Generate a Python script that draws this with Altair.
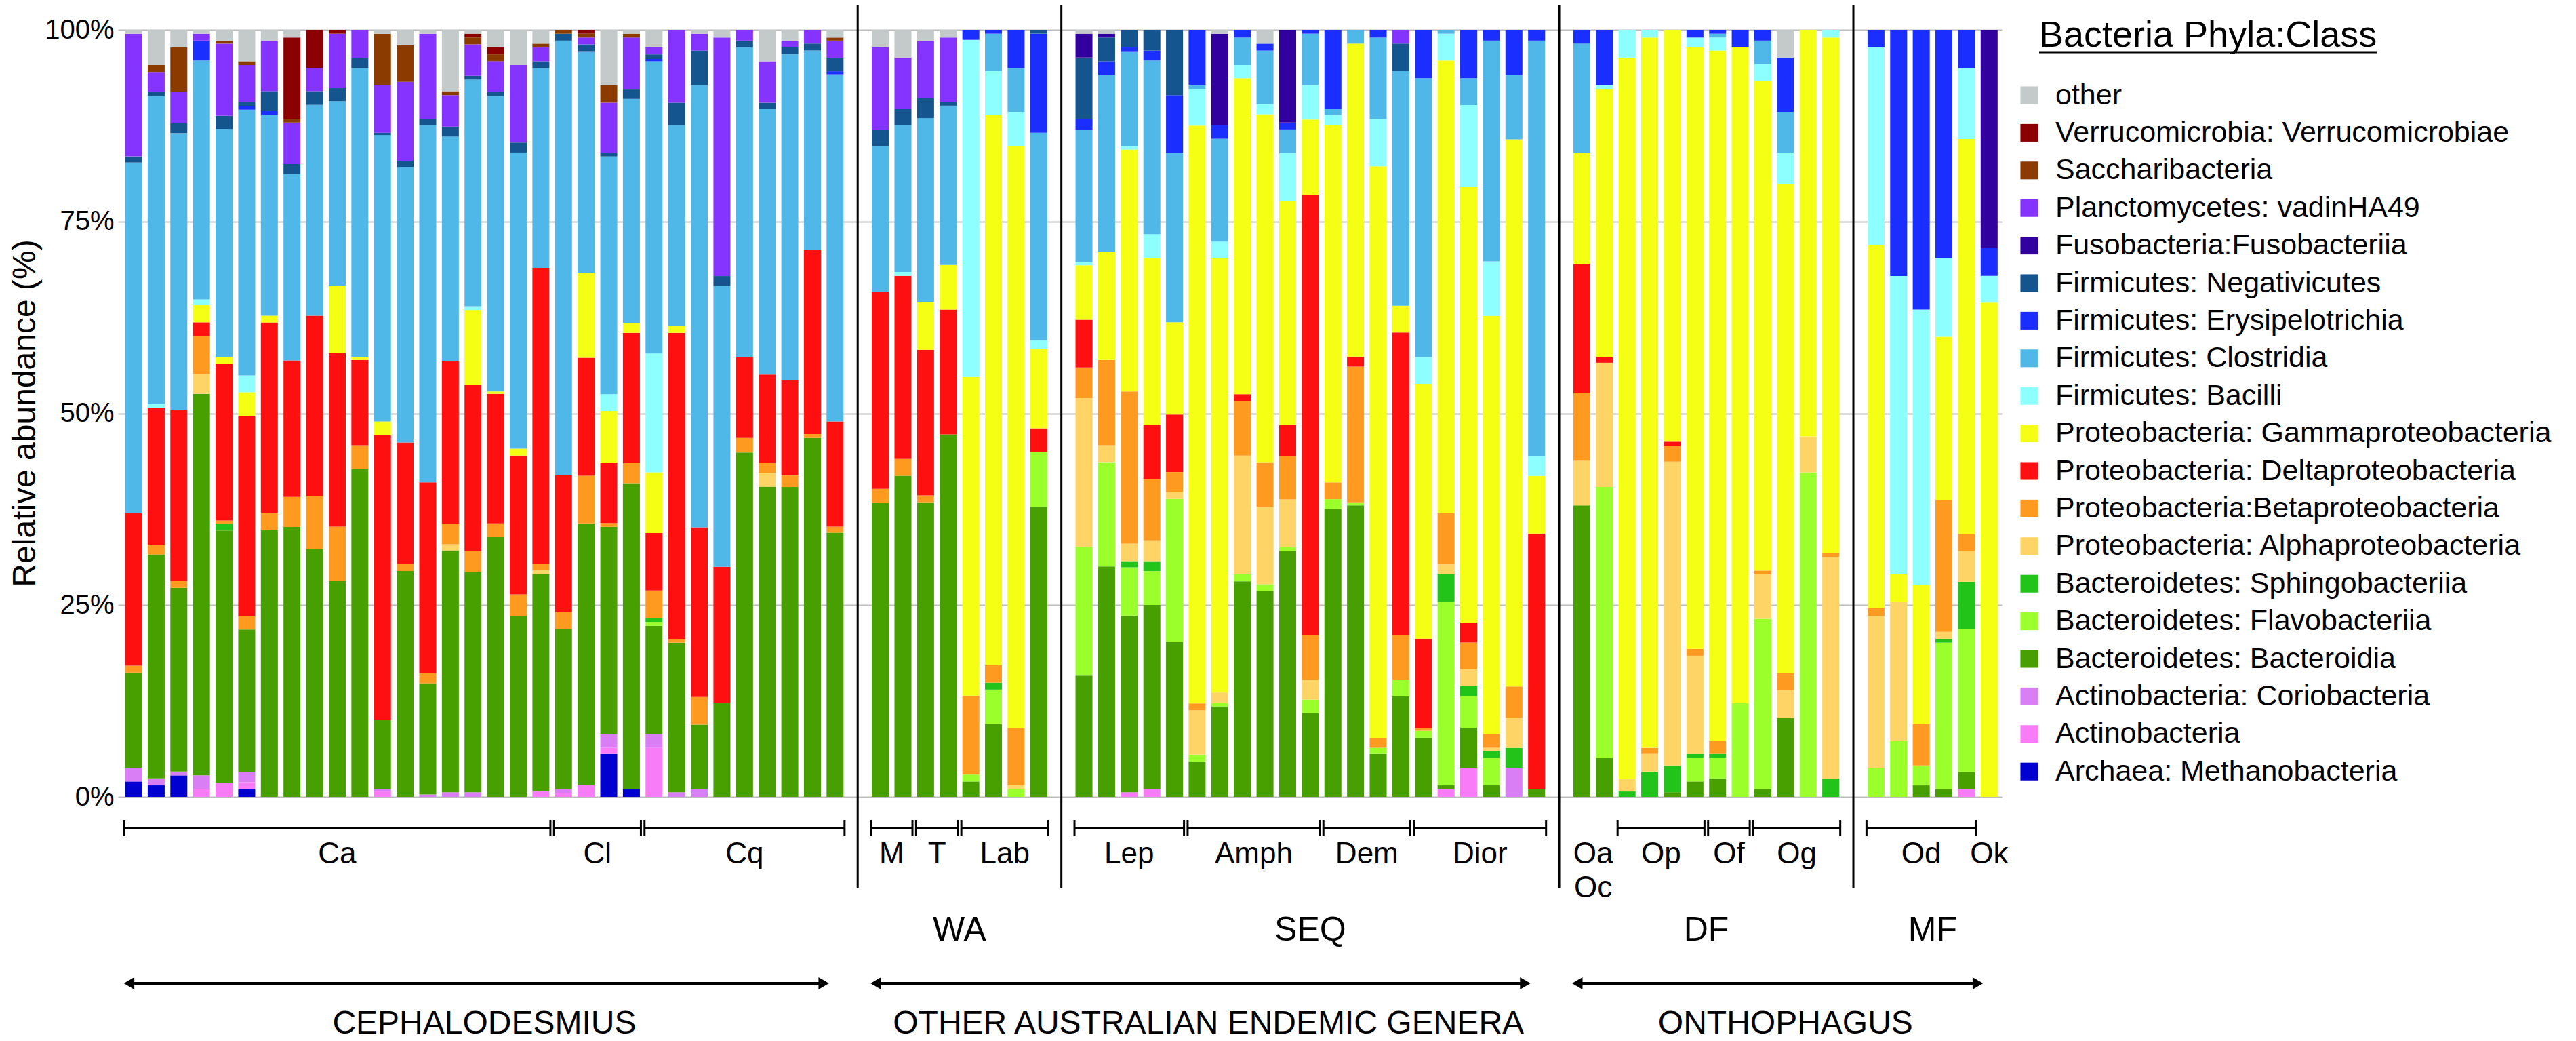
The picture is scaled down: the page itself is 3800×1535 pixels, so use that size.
import altair as alt
import pandas as pd

FONT = "Liberation Sans"

# ---------------- categories (stack order: bottom -> top) ----------------
CLASSES = [
    "Archaea: Methanobacteria",
    "Actinobacteria",
    "Actinobacteria: Coriobacteria",
    "Bacteroidetes: Bacteroidia",
    "Bacteroidetes: Flavobacteriia",
    "Bacteroidetes: Sphingobacteriia",
    "Proteobacteria: Alphaproteobacteria",
    "Proteobacteria:Betaproteobacteria",
    "Proteobacteria: Deltaproteobacteria",
    "Proteobacteria: Gammaproteobacteria",
    "Firmicutes: Bacilli",
    "Firmicutes: Clostridia",
    "Firmicutes: Erysipelotrichia",
    "Firmicutes: Negativicutes",
    "Fusobacteria:Fusobacteriia",
    "Planctomycetes: vadinHA49",
    "Saccharibacteria",
    "Verrucomicrobia: Verrucomicrobiae",
    "other",
]
COLORS = [
    "#0000D0", "#F87CF8", "#DA7EF5", "#48A000", "#9AFF2A", "#22C41A",
    "#FFD466", "#FF9A20", "#FF1010", "#F4FF14", "#8EFFFF", "#50B8E8",
    "#1A2EFF", "#14558F", "#3300A0", "#8533FF", "#8B3A00", "#8B0000",
    "#C4CACA",
]

# ---------------- sample groups ----------------
PANEL_GROUPS = [
    [("Ca", 19), ("Cl", 4), ("Cq", 9)],
    [("M", 2), ("T", 2), ("Lab", 4)],
    [("Lep", 5), ("Amph", 6), ("Dem", 4), ("Dior", 6)],
    [("Oa\nOc", 2), ("Op", 4), ("Of", 2), ("Og", 4)],
    [("Od", 5), ("Ok", 1)],
]
PANEL_REGIONS = ["", "WA", "SEQ", "DF", "MF"]
GENERA = [("CEPHALODESMIUS", 0, 0), ("OTHER AUSTRALIAN ENDEMIC GENERA", 1, 2), ("ONTHOPHAGUS", 3, 4)]
NO_BRACKET = ["Oa\nOc", "Ok"]
LEGEND_TITLE = "Bacteria Phyla:Class"
Y_TITLE = "Relative abundance (%)"
Y_TICKS = [0, 0.25, 0.5, 0.75, 1]

# ---------------- relative abundance (%) per class, one value per sample ----------------
# order per list: Cephalodesmius (32) | WA (8) | SEQ (21) | DF (12) | MF (6)
ARCHAEA = [
    2.0, 1.5, 2.8, 0, 0, 1.0, 0, 0, 0, 0, 0, 0, 0, 0, 0, 0,
    0, 0, 0, 0, 0, 5.6, 1.0, 0, 0, 0, 0, 0, 0, 0, 0, 0,
    0, 0, 0, 0, 0, 0, 0, 0,
    0, 0, 0, 0, 0, 0, 0, 0, 0, 0, 0, 0, 0, 0, 0, 0, 0, 0, 0, 0, 0,
    0, 0, 0, 0, 0, 0, 0, 0, 0, 0, 0, 0,
    0, 0, 0, 0, 0, 0,
]
ACTINO = [
    0, 0, 0, 1.0, 1.8, 0.9, 0, 0, 0, 0, 0, 0.7, 0, 0, 0, 0,
    0, 0, 0.7, 0.5, 1.5, 0.8, 0, 6.4, 0, 0, 0, 0, 0, 0, 0, 0,
    0, 0, 0, 0, 0, 0, 0, 0,
    0, 0, 0.6, 1.0, 0, 0, 0, 0, 0, 0, 0, 0, 0, 0, 0, 0, 1.0, 3.8, 0, 0, 0,
    0, 0, 0, 0, 0, 0, 0, 0, 0, 0, 0, 0,
    0, 0, 0, 0, 1.0, 0,
]
CORIO = [
    1.8, 0.9, 0.5, 1.8, 0, 1.3, 0, 0, 0, 0, 0, 0.3, 0, 0.3, 0.6, 0.6,
    0, 0, 0, 0.5, 0, 1.8, 0, 1.8, 0.6, 1.0, 0, 0, 0, 0, 0, 0,
    0, 0, 0, 0, 0, 0, 0, 0,
    0, 0, 0, 0, 0, 0, 0, 0, 0, 0, 0, 0, 0, 0, 0, 0, 0, 0, 0, 3.8, 0,
    0, 0, 0, 0, 0, 0, 0, 0, 0, 0, 0, 0,
    0, 0, 0, 0, 0, 0,
]
BACTEROIDIA = [
    12.4, 29.2, 24.0, 49.7, 32.9, 18.6, 34.8, 35.2, 32.3, 28.1, 42.7, 9.0, 29.5, 14.5, 31.5, 28.8,
    33.9, 23.6, 28.3, 20.9, 34.2, 27.0, 39.9, 14.1, 19.5, 8.4, 12.2, 44.9, 40.4, 40.4, 46.8, 34.4,
    38.4, 41.9, 38.4, 47.3, 2.0, 9.5, 0, 37.8,
    15.8, 30.0, 23.0, 24.0, 20.2, 4.6, 11.8, 28.1, 26.8, 32.1, 10.9, 37.5, 38.0, 5.6, 13.1, 7.7,
    0.5, 5.2, 1.5, 0, 1.0,
    38.0, 5.1, 0, 0, 0.6, 2.0, 2.4, 0, 1.0, 10.3, 0, 0,
    0, 0, 1.5, 1.0, 2.2, 0,
]
FLAVO = [
    0, 0, 0, 0, 0, 0, 0, 0, 0, 0, 0, 0, 0, 0, 0, 0,
    0, 0, 0, 0, 0, 0, 0, 0.5, 0, 0, 0, 0, 0, 0, 0, 0,
    0, 0, 0, 0, 0.9, 4.5, 1.0, 7.1,
    16.8, 13.6, 6.3, 4.4, 18.6, 0.9, 0.4, 0.9, 0.9, 0.5, 1.8, 1.3, 0.4, 0.8, 2.2, 0.9,
    23.9, 4.1, 3.6, 0, 0,
    0, 35.3, 0, 0, 0, 3.1, 2.7, 12.2, 22.2, 0, 42.3, 0,
    3.8, 7.3, 2.6, 19.1, 18.6, 0,
]
SPHINGO = [
    0, 0, 0, 0, 0.9, 0, 0, 0, 0, 0, 0, 0, 0, 0, 0, 0,
    0, 0, 0, 0, 0, 0, 0, 0.5, 0, 0, 0, 0, 0, 0, 0, 0,
    0, 0, 0, 0, 0, 0.9, 0, 0,
    0, 0, 0.8, 1.3, 0, 0, 0, 0, 0, 0, 0, 0, 0, 0, 0, 0, 3.6, 1.3, 0.9, 2.6, 0,
    0, 0, 0.7, 3.3, 3.5, 0.5, 0.5, 0, 0, 0, 0, 2.4,
    0, 0, 0, 0.5, 6.2, 0,
]
ALPHA = [
    0, 0, 0, 2.6, 0, 0, 0, 0, 0, 0, 0, 0, 0, 0, 0.8, 0,
    0, 0, 0.5, 0, 0, 0, 0, 0, 0, 0, 0, 0, 1.8, 0, 0, 0,
    0, 0, 0, 0, 0, 0, 0.5, 0,
    19.4, 2.2, 2.3, 2.7, 0.9, 5.8, 1.4, 15.5, 10.1, 6.2, 2.6, 0, 0, 0, 0, 0,
    1.3, 2.2, 0.4, 3.9, 0,
    5.8, 16.2, 1.6, 2.3, 39.6, 12.8, 0, 0, 5.8, 3.6, 4.7, 28.9,
    19.8, 18.1, 0, 0.9, 4.0, 0,
]
BETA = [
    0.9, 1.3, 0.9, 4.9, 0.4, 1.7, 2.2, 3.9, 6.9, 7.1, 3.1, 0, 0.9, 1.3, 2.7, 2.7,
    1.8, 2.8, 0.8, 2.2, 6.2, 0.5, 2.6, 3.6, 0.5, 3.6, 0, 1.9, 1.3, 1.5, 0.5, 0.8,
    1.8, 2.2, 0.9, 0, 10.3, 2.3, 7.5, 0,
    4.0, 11.1, 19.8, 8.0, 2.6, 0.9, 0, 7.1, 5.8, 5.7, 5.8, 2.2, 17.7, 1.3, 5.8, 0.4,
    6.7, 3.5, 1.8, 4.1, 0,
    8.8, 0, 0, 0.8, 2.1, 0.9, 1.7, 0, 0.5, 2.2, 0, 0.5,
    1.0, 0, 5.4, 17.2, 2.2, 0,
]
DELTA = [
    19.9, 17.8, 22.3, 1.8, 20.4, 26.1, 24.9, 17.8, 23.6, 22.6, 11.1, 37.1, 15.9, 24.9, 21.1, 21.7,
    16.9, 18.1, 38.6, 17.8, 15.4, 7.9, 17.0, 7.5, 39.9, 22.1, 17.8, 10.5, 11.5, 12.4, 24.0, 13.7,
    25.7, 23.9, 19.0, 16.3, 0, 0, 0, 3.1,
    6.2, 0, 0, 7.1, 7.5, 0, 0, 0.9, 0, 4.0, 57.5, 0, 1.3, 0, 39.5, 11.6,
    0, 2.6, 0, 0, 33.3,
    16.8, 0.7, 0, 0, 0.5, 0, 0, 0, 0, 0, 0, 0,
    0, 0, 0, 0, 0, 0,
]
GAMMA = [
    0, 0, 0, 2.3, 0.9, 3.1, 0.9, 0, 0, 8.8, 0.4, 1.8, 0, 0, 0, 9.8,
    0.3, 0.9, 0, 0, 11.1, 6.7, 1.3, 7.9, 0.9, 0, 0, 0, 0, 0, 0, 0,
    0, 0, 6.2, 5.8, 41.6, 71.8, 75.8, 10.3,
    7.1, 14.1, 31.5, 21.7, 12.0, 75.4, 56.6, 41.2, 45.3, 29.3, 9.8, 46.6, 40.8, 74.5, 3.5, 33.2,
    59.0, 56.7, 54.5, 71.4, 7.5,
    14.6, 35.0, 94.0, 92.6, 53.7, 78.4, 90.0, 85.5, 63.8, 63.8, 53.0, 67.3,
    47.3, 3.6, 18.2, 21.3, 51.4, 64.5,
]
BACILLI = [
    0, 0.5, 0, 0.7, 0, 2.2, 0, 0, 0, 0, 0, 0, 0, 0, 0, 0.5,
    0, 0, 0, 0, 0, 2.2, 0, 15.5, 0, 0, 0, 0, 0, 0, 0, 0,
    0, 0.5, 0, 0, 44.0, 5.7, 4.5, 1.2,
    0.4, 0, 0.4, 3.1, 0, 4.8, 2.2, 1.7, 1.3, 6.2, 4.5, 1.3, 0, 6.2, 0, 3.5,
    3.5, 10.7, 7.1, 0, 2.6,
    0, 0.5, 3.6, 1.0, 0, 1.3, 1.7, 0, 2.2, 4.1, 0, 1.0,
    25.8, 38.9, 35.9, 10.2, 9.2, 3.5,
]
CLOSTRIDIA = [
    45.7, 40.2, 36.2, 31.1, 29.7, 34.6, 26.2, 24.3, 27.5, 24.0, 37.6, 37.3, 36.0, 46.6, 29.3, 29.6,
    38.6, 38.6, 26.0, 56.7, 28.9, 31.0, 29.2, 38.1, 26.2, 57.6, 36.6, 40.4, 34.6, 42.5, 26.0, 45.2,
    19.0, 19.2, 24.0, 20.8, 0, 4.9, 5.7, 27.0,
    17.3, 23.0, 12.4, 22.6, 22.1, 0.5, 13.4, 3.6, 7.0, 3.1, 6.7, 0.8, 1.8, 10.6, 30.6, 36.3,
    0.5, 3.5, 28.8, 8.4, 54.1,
    14.2, 0, 0, 0, 0, 0, 0.5, 0, 3.1, 5.3, 0, 0,
    0, 0, 0, 0, 0, 0,
]
ERYSIPELO = [
    0, 0, 0, 2.6, 0, 0.5, 0.5, 0, 0, 0, 0, 0, 0, 0, 0, 0,
    0, 0, 0, 0, 0, 0, 0, 0.3, 0, 0, 0, 0, 0, 0, 0, 0.4,
    0, 0, 0, 0, 1.3, 0.5, 5.0, 12.9,
    1.4, 1.8, 0.5, 1.3, 7.5, 7.2, 1.8, 1.0, 0.9, 0.9, 0.5, 10.3, 0, 1.0, 0, 6.3,
    0, 6.3, 1.4, 5.9, 1.4,
    1.8, 7.2, 0, 0, 0, 1.0, 0.5, 2.3, 1.4, 7.1, 0, 0,
    2.3, 32.1, 36.5, 29.8, 5.0, 3.6,
]
NEGATIVI = [
    0.8, 0.5, 1.3, 0, 1.7, 0.5, 2.6, 1.3, 1.8, 1.7, 1.3, 0.3, 0.8, 0.8, 1.3, 0.5,
    0.5, 1.3, 0.9, 0.9, 0.9, 0.5, 1.3, 0.6, 2.9, 4.5, 1.3, 0.9, 0.8, 0.9, 0.9, 1.7,
    2.2, 2.1, 2.6, 0.5, 0, 0, 0, 0.5,
    8.0, 3.1, 2.3, 2.7, 8.5, 0, 0, 0, 0, 0, 0, 0, 0, 0, 3.6, 0,
    0, 0, 0, 0, 0,
    0, 0, 0, 0, 0, 0, 0, 0, 0, 0, 0, 0,
    0, 0, 0, 0, 0, 0,
]
FUSO = [
    0, 0, 0, 0, 0, 0, 0, 0, 0, 0, 0, 0, 0, 0, 0, 0,
    0, 0, 0, 0, 0, 0, 0, 0, 0, 0, 0, 0, 0, 0, 0, 0,
    0, 0, 0, 0, 0, 0, 0, 0,
    3.1, 0.5, 0, 0, 0, 0, 11.9, 0, 0, 12.1, 0, 0, 0, 0, 0, 0,
    0, 0, 0, 0, 0,
    0, 0, 0, 0, 0, 0, 0, 0, 0, 0, 0, 0,
    0, 0, 0, 0, 0, 28.5,
]
PLANCTO = [
    16.0, 2.6, 4.1, 0.9, 9.4, 4.8, 6.6, 5.4, 3.0, 7.1, 3.7, 6.2, 10.3, 11.1, 4.1, 4.1,
    4.0, 10.1, 1.8, 0, 0.9, 6.5, 6.7, 0.9, 9.5, 2.2, 31.1, 1.4, 5.4, 0.9, 1.8, 2.3,
    10.7, 6.7, 7.5, 8.4, 0, 0, 0, 0,
    0, 0, 0, 0, 0, 0, 0, 0, 0, 0, 0, 0, 0, 0, 1.8, 0,
    0, 0, 0, 0, 0,
    0, 0, 0, 0, 0, 0, 0, 0, 0, 0, 0, 0,
    0, 0, 0, 0, 0, 0,
]
SACCHARI = [
    0, 0.9, 5.8, 0, 0.4, 0.5, 0, 0.5, 0, 0, 0, 6.7, 4.8, 0, 0.5, 0.9,
    0.9, 0, 0.5, 0.5, 0.5, 2.3, 0.5, 0, 0, 0, 0, 0, 0, 0, 0, 0.4,
    0, 0, 0, 0, 0, 0, 0, 0,
    0, 0, 0, 0, 0, 0, 0, 0, 0, 0, 0, 0, 0, 0, 0, 0,
    0, 0, 0, 0, 0,
    0, 0, 0, 0, 0, 0, 0, 0, 0, 0, 0, 0,
    0, 0, 0, 0, 0, 0,
]
VERRUCO = [
    0, 0, 0, 0, 0, 0, 0, 10.6, 5.0, 0.5, 0, 0, 0, 0, 0, 0.5,
    0.9, 0, 0, 0, 0.5, 0, 0, 0, 0, 0, 0, 0, 0, 0, 0, 0,
    0, 0, 0, 0, 0, 0, 0, 0,
    0, 0, 0, 0, 0, 0, 0, 0, 0, 0, 0, 0, 0, 0, 0, 0,
    0, 0, 0, 0, 0,
    0, 0, 0, 0, 0, 0, 0, 0, 0, 0, 0, 0,
    0, 0, 0, 0, 0, 0,
]
OTHER = [
    0.5, 4.6, 2.3, 0.5, 1.4, 4.1, 1.4, 1.0, 0, 0, 0, 0.5, 2.0, 0.5, 8.0, 0.5,
    2.3, 4.6, 1.8, 0, 0, 7.2, 0.5, 2.3, 0, 0.5, 1.0, 0, 4.1, 1.4, 0, 1.0,
    2.3, 3.6, 1.4, 1.0, 0, 0, 0, 0,
    0.5, 0.5, 0, 0, 0, 0, 0.5, 0, 1.8, 0, 0, 0, 0, 0, 0, 0,
    0, 0, 0, 0, 0,
    0, 0, 0, 0, 0, 0, 0, 0, 0, 3.6, 0, 0,
    0, 0, 0, 0, 0, 0,
]
SERIES = [ARCHAEA, ACTINO, CORIO, BACTEROIDIA, FLAVO, SPHINGO, ALPHA, BETA, DELTA,
          GAMMA, BACILLI, CLOSTRIDIA, ERYSIPELO, NEGATIVI, FUSO, PLANCTO, SACCHARI,
          VERRUCO, OTHER]

# ---------------- layout of samples on a slot axis (one empty slot between panels) ----------------
bar_slots, sep_slots, panel_first, panel_last, group_rows = [], [], [], [], []
slot = 0
for p, groups in enumerate(PANEL_GROUPS):
    if p > 0:
        sep_slots.append(slot)
        slot += 1
    panel_first.append(slot)
    for name, n in groups:
        g0 = slot
        for _ in range(n):
            bar_slots.append(slot)
            slot += 1
        g1 = slot - 1
        group_rows.append({"label": name, "c": (g0 + g1) / 2, "x0": g0 - 0.42,
                           "x1": g1 + 0.42, "br": name not in NO_BRACKET})
    panel_last.append(slot - 1)

rows = []
for i, s in enumerate(bar_slots):
    for k, (cls, ser) in enumerate(zip(CLASSES, SERIES)):
        v = ser[i]
        if v > 0:
            rows.append({"bar": i, "slot": s, "cls": cls, "rank": k, "value": v})
df = pd.DataFrame(rows)

XS = alt.Scale(domain=[-0.69, 82.56], nice=False, zero=False)

bars = alt.Chart(df).transform_stack(
    stack="value", groupby=["bar"], offset="normalize",
    sort=[alt.SortField(field="rank", order="ascending")], as_=["y0", "y1"],
).transform_calculate(
    xa="datum.slot - 0.375", xb="datum.slot + 0.375"
).mark_bar().encode(
    x=alt.X("xa:Q", scale=XS, axis=alt.Axis(domain=True, domainColor="black", domainWidth=6,
                                            ticks=False, labels=False, grid=False, title="")),
    x2="xb:Q",
    y=alt.Y("y0:Q", scale=alt.Scale(domain=[0, 1], nice=False),
            axis=alt.Axis(values=Y_TICKS, format=".0%", grid=True, gridColor="#BDBDBD",
                          gridWidth=2, domain=False, ticks=False, labelFont=FONT,
                          labelFontSize=40, labelColor="black", labelPadding=6,
                          title=Y_TITLE, titleFont=FONT, titleFontSize=48,
                          titleFontWeight="normal", titleColor="black", titleX=-137,
                          titleY=565, titleAngle=270, titleAlign="center",
                          titleBaseline="middle")),
    y2="y1:Q",
    color=alt.Color("cls:N", scale=alt.Scale(domain=CLASSES[::-1], range=COLORS[::-1]),
                    legend=alt.Legend(orient="none", legendX=2798, legendY=75, title=None,
                                      symbolType="square", symbolSize=680,
                                      symbolStrokeWidth=0, labelFont=FONT,
                                      labelFontSize=43, labelColor="black", labelOffset=17,
                                      rowPadding=11.4, padding=0, labelLimit=2000,
                                      direction="vertical")),
)

seps = alt.Chart(pd.DataFrame({"slot": sep_slots})).mark_rule(color="black", strokeWidth=3).encode(
    x=alt.X("slot:Q", scale=XS, axis=None), y=alt.value(-36), y2=alt.value(1265))

grp = pd.DataFrame(group_rows)
brk = grp[grp["br"]]
br_lines = alt.Chart(brk).mark_rule(color="black", strokeWidth=3).encode(
    x=alt.X("x0:Q", scale=XS, axis=None), x2="x1:Q", y=alt.value(1177))
ends = pd.DataFrame({"xe": list(brk["x0"]) + list(brk["x1"])})
br_ends = alt.Chart(ends).mark_rule(color="black", strokeWidth=3).encode(
    x=alt.X("xe:Q", scale=XS, axis=None), y=alt.value(1165), y2=alt.value(1189))
grp_text = alt.Chart(grp).mark_text(font=FONT, fontSize=44, lineBreak="\n", lineHeight=50,
                                    baseline="middle", color="black").encode(
    x=alt.X("c:Q", scale=XS, axis=None), y=alt.value(1216), text="label:N")

reg = pd.DataFrame([{"label": r, "c": (panel_first[i] + panel_last[i]) / 2}
                    for i, r in enumerate(PANEL_REGIONS) if r])
reg_text = alt.Chart(reg).mark_text(font=FONT, fontSize=50, baseline="middle", color="black").encode(
    x=alt.X("c:Q", scale=XS, axis=None), y=alt.value(1328), text="label:N")

gen = pd.DataFrame([{"label": g, "x0": panel_first[a] - 0.2, "x1": panel_last[b] - 0.5,
                     "c": (panel_first[a] + panel_last[b]) / 2} for g, a, b in GENERA])
arrows = alt.Chart(gen).mark_rule(color="black", strokeWidth=4).encode(
    x=alt.X("x0:Q", scale=XS, axis=None), x2="x1:Q", y=alt.value(1406))
head_l = alt.Chart(gen).mark_point(shape="triangle-left", filled=True, size=320, color="black",
                                   opacity=1).encode(
    x=alt.X("x0:Q", scale=XS, axis=None), y=alt.value(1406))
head_r = alt.Chart(gen).mark_point(shape="triangle-right", filled=True, size=320, color="black",
                                   opacity=1).encode(
    x=alt.X("x1:Q", scale=XS, axis=None), y=alt.value(1406))
gen_text = alt.Chart(gen).mark_text(font=FONT, fontSize=48, baseline="alphabetic",
                                    color="black").encode(
    x=alt.X("c:Q", scale=XS, axis=None), y=alt.value(1480), text="label:N")

leg_title = alt.Chart(pd.DataFrame({"t": [LEGEND_TITLE]})).mark_text(
    font=FONT, fontSize=54, align="left", baseline="middle", color="black").encode(
    x=alt.value(2834), y=alt.value(9), text="t:N")
underline = alt.Chart(pd.DataFrame({"t": [LEGEND_TITLE]})).mark_rule(color="black", strokeWidth=3).encode(
    x=alt.value(2834), x2=alt.value(3332), y=alt.value(33))

chart = alt.layer(
    bars, seps, br_lines, br_ends, grp_text, reg_text, arrows, head_l, head_r, gen_text,
    leg_title, underline,
).properties(
    width=2779, height=1131,
    autosize=alt.AutoSizeParams(type="none"),
    padding={"left": 166, "top": 36, "right": 839, "bottom": 360},
    background="white",
).configure_view(strokeWidth=0)

chart.save("out.html", embed_options={"renderer": "svg", "actions": False})
